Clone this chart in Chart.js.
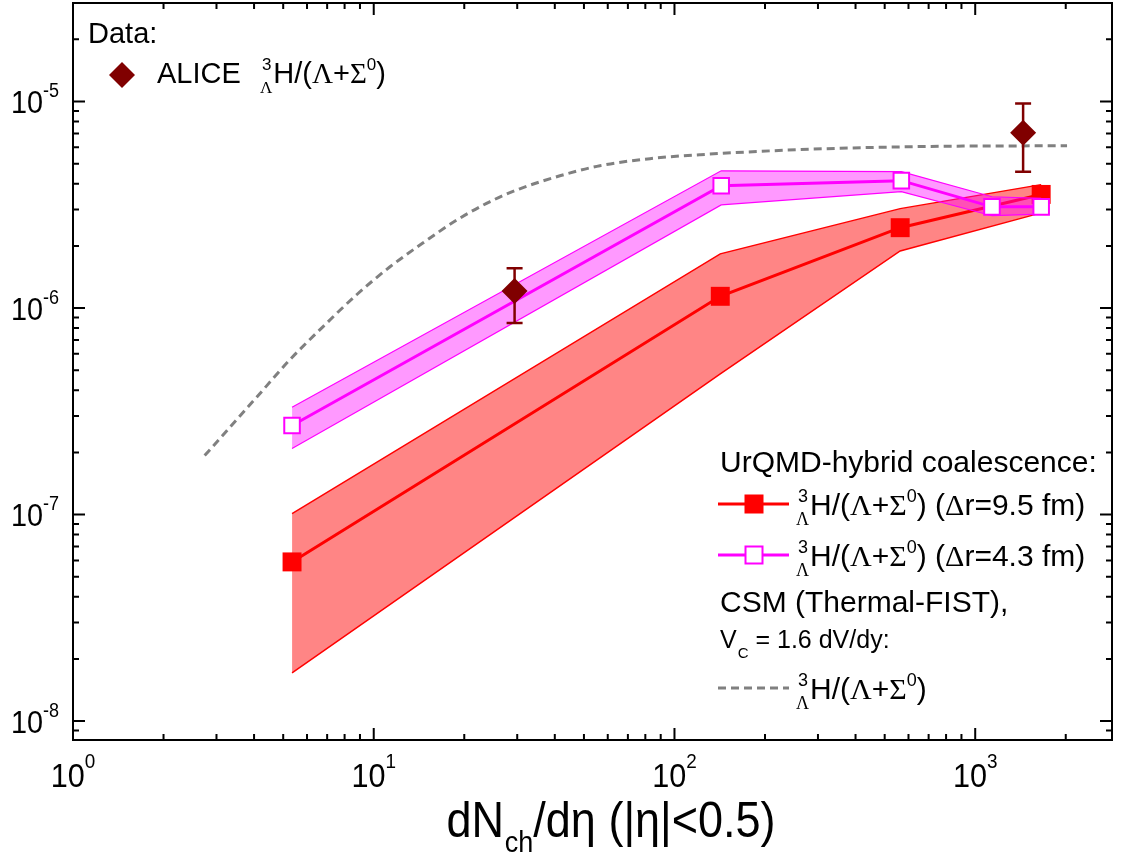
<!DOCTYPE html>
<html>
<head>
<meta charset="utf-8">
<script src="https://cdn.jsdelivr.net/npm/chart.js@4.4.0/dist/chart.umd.min.js"></script>
<style>
  html, body { margin: 0; padding: 0; background: #fff; }
  #wrap { width: 1122px; height: 856px; }
</style>
</head>
<body>
<div id="wrap"><canvas id="chart" width="1122" height="856"></canvas></div>
<script>
// ALICE data point + error bars
const aliceX = [29.4, 1443];
const aliceY = [1.21e-6, 7.07e-6];
const aliceHi = [1.56e-6, 9.78e-6];
const aliceLo = [8.46e-7, 4.57e-6];

// UrQMD-hybrid coalescence, dr = 9.5 fm (red)
const red95X = [5.35, 142, 563, 1657];
const red95Y = [5.9e-8, 1.14e-6, 2.45e-6, 3.55e-6];
const red95Up = [1.01e-7, 1.83e-6, 3.03e-6, 3.96e-6];
const red95Lo = [1.71e-8, 4.8e-7, 1.89e-6, 2.89e-6];

// UrQMD-hybrid coalescence, dr = 4.3 fm (magenta)
const mag43X = [5.35, 143, 568, 1137, 1657];
const mag43Y = [2.7e-7, 3.91e-6, 4.14e-6, 3.09e-6, 3.09e-6];
const mag43Up = [3.31e-7, 4.62e-6, 4.58e-6, 3.46e-6, 3.4e-6];
const mag43Lo = [2.09e-7, 3.16e-6, 3.66e-6, 2.8e-6, 2.85e-6];

// CSM (Thermal-FIST) curve
const csmX = [2.74, 4.08, 5.25, 6.76, 8.77, 11.3, 14.6, 18.9, 24.3, 30.6, 41.6, 56.5, 82.9, 122, 261, 641, 2020];
const csmY = [1.93e-7, 3.7e-7, 5.6e-7, 8.09e-7, 1.16e-6, 1.58e-6, 2.07e-6, 2.67e-6, 3.27e-6, 3.78e-6, 4.37e-6, 4.89e-6, 5.29e-6, 5.53e-6, 5.85e-6, 6.05e-6, 6.11e-6];

// tick labels (decades and their exponents)
const xDecades = [1, 10, 100, 1000];
const xTickExp = ['0', '1', '2', '3'];
const yDecades = [1e-5, 1e-6, 1e-7, 1e-8];
const yTickExp = ['-5', '-6', '-7', '-8'];

const pts = (xs, ys) => xs.map((x, i) => ({ x: x, y: ys[i] }));

const SANS = '"Liberation Sans", Arial, sans-serif';
const SERIF = '"Liberation Serif", "Times New Roman", serif';
const fnt = (s, serif) => s + 'px ' + (serif ? SERIF : SANS);

// draws a run of text parts with super/subscripts, returns width
function drawRich(ctx, x, y, parts, size, sx, draw) {
  sx = sx || 1;
  ctx.save();
  ctx.translate(x, y);
  ctx.scale(sx, 1);
  ctx.textAlign = 'left';
  ctx.textBaseline = 'alphabetic';
  let cx = 0;
  const small = Math.round(size * 0.6);
  for (const p of parts) {
    if (p.stack) {
      ctx.font = fnt(small, false);
      const w1 = ctx.measureText(p.stack[0]).width;
      if (draw) ctx.fillText(p.stack[0], cx + 2, -size * 0.45);
      ctx.font = fnt(small, true);
      const w2 = ctx.measureText(p.stack[1]).width;
      if (draw) ctx.fillText(p.stack[1], cx, size * 0.33);
      cx += Math.max(w1 + 2, w2) + 1;
    } else if (p.sup !== undefined) {
      ctx.font = fnt(p.size || small, false);
      if (draw) ctx.fillText(p.sup, cx, -(p.rise || size * 0.45));
      cx += ctx.measureText(p.sup).width;
    } else if (p.sub !== undefined) {
      ctx.font = fnt(p.size || small, false);
      if (draw) ctx.fillText(p.sub, cx + 1, p.drop || size * 0.3);
      cx += ctx.measureText(p.sub).width + 1;
    } else {
      ctx.font = fnt(size, p.serif);
      if (draw) ctx.fillText(p.t, cx, 0);
      cx += ctx.measureText(p.t).width;
    }
  }
  ctx.restore();
  return cx * sx;
}

const hypParts = [
  { stack: ['3', 'Λ'] }, { t: 'H/(' }, { t: 'Λ', serif: true }, { t: '+' },
  { t: 'Σ', serif: true }, { sup: '0' }, { t: ')' }
];

const framePlugin = {
  id: 'frame',
  afterDatasetsDraw(chart) {
    const ctx = chart.ctx;
    const xs = chart.scales.x, ys = chart.scales.y;
    // ALICE error bars
    ctx.save();
    ctx.strokeStyle = '#800000';
    ctx.lineWidth = 2.5;
    aliceX.forEach((v, i) => {
      const px = xs.getPixelForValue(v);
      const top = ys.getPixelForValue(aliceHi[i]);
      const bot = ys.getPixelForValue(aliceLo[i]);
      ctx.beginPath();
      ctx.moveTo(px, top); ctx.lineTo(px, bot);
      ctx.moveTo(px - 8, top); ctx.lineTo(px + 8, top);
      ctx.moveTo(px - 8, bot); ctx.lineTo(px + 8, bot);
      ctx.stroke();
    });
    ctx.restore();
  },
  afterDraw(chart) {
    const ctx = chart.ctx;
    const a = chart.chartArea;
    const xs = chart.scales.x, ys = chart.scales.y;
    ctx.save();
    ctx.strokeStyle = '#000';
    ctx.fillStyle = '#000';
    ctx.lineWidth = 2;
    ctx.strokeRect(a.left, a.top, a.right - a.left, a.bottom - a.top);

    // ticks on all four sides, pointing inwards
    ctx.beginPath();
    for (let d = 1; d <= 1000; d *= 10) {
      for (let m = 1; m <= 9; m++) {
        const v = d * m;
        if (v < xs.min || v > xs.max) continue;
        const px = xs.getPixelForValue(v);
        const len = m === 1 ? 12 : 6;
        ctx.moveTo(px, a.bottom); ctx.lineTo(px, a.bottom - len);
        ctx.moveTo(px, a.top); ctx.lineTo(px, a.top + len);
      }
    }
    for (let d = 1e-9; d <= 1e-4; d *= 10) {
      for (let m = 1; m <= 9; m++) {
        const v = d * m;
        if (v < ys.min || v > ys.max) continue;
        const py = ys.getPixelForValue(v);
        const len = m === 1 ? 12 : 6;
        ctx.moveTo(a.left, py); ctx.lineTo(a.left + len, py);
        ctx.moveTo(a.right, py); ctx.lineTo(a.right - len, py);
      }
    }
    ctx.stroke();

    // tick labels
    xDecades.forEach((v, i) => {
      const parts = [{ t: '10' }, { sup: xTickExp[i], size: 21, rise: 19 }];
      const w = drawRich(ctx, 0, 0, parts, 34, 0.9, false);
      drawRich(ctx, xs.getPixelForValue(v) - w / 2, 787, parts, 34, 0.9, true);
    });
    yDecades.forEach((v, i) => {
      const parts = [{ t: '10' }, { sup: yTickExp[i], size: 20, rise: 16 }];
      const w = drawRich(ctx, 0, 0, parts, 32, 0.9, false);
      drawRich(ctx, 59 - w, ys.getPixelForValue(v) + 11.5, parts, 32, 0.9, true);
    });

    // axis title
    const title = [{ t: 'dN' }, { sub: 'ch', size: 30, drop: 15 }, { t: '/dη (|η|<0.5)' }];
    const tw = drawRich(ctx, 0, 0, title, 50, 0.9, false);
    drawRich(ctx, 611 - tw / 2, 837, title, 50, 0.9, true);

    // legend: data
    drawRich(ctx, 88, 43, [{ t: 'Data:' }], 29, 1, true);
    ctx.fillStyle = '#800000';
    ctx.beginPath();
    ctx.moveTo(122 - 13, 75); ctx.lineTo(122, 62); ctx.lineTo(122 + 13, 75); ctx.lineTo(122, 88);
    ctx.closePath(); ctx.fill();
    ctx.fillStyle = '#000';
    drawRich(ctx, 157, 83, [{ t: 'ALICE' }], 29, 1, true);
    drawRich(ctx, 260, 83, hypParts, 29, 1, true);

    // legend: model curves
    drawRich(ctx, 720, 472, [{ t: 'UrQMD-hybrid coalescence:' }], 30, 1, true);
    ctx.lineWidth = 3;
    ctx.strokeStyle = '#ff0000';
    ctx.beginPath(); ctx.moveTo(718, 504); ctx.lineTo(789, 504); ctx.stroke();
    ctx.fillStyle = '#ff0000';
    ctx.fillRect(754 - 9.5, 504 - 9.5, 19, 19);
    ctx.fillStyle = '#000';
    drawRich(ctx, 796, 515, hypParts.concat([{ t: ' (' }, { t: 'Δ', serif: true }, { t: 'r=9.5 fm)' }]), 30, 1, true);

    ctx.strokeStyle = '#ff00ff';
    ctx.beginPath(); ctx.moveTo(718, 555); ctx.lineTo(789, 555); ctx.stroke();
    ctx.fillStyle = '#fff';
    ctx.lineWidth = 2;
    ctx.fillRect(754 - 8.5, 555 - 8.5, 17, 17);
    ctx.strokeRect(754 - 8.5, 555 - 8.5, 17, 17);
    ctx.fillStyle = '#000';
    drawRich(ctx, 796, 566, hypParts.concat([{ t: ' (' }, { t: 'Δ', serif: true }, { t: 'r=4.3 fm)' }]), 30, 1, true);

    drawRich(ctx, 720, 612, [{ t: 'CSM (Thermal-FIST),' }], 30, 1, true);
    drawRich(ctx, 720, 648, [{ t: 'V' }, { sub: 'C', size: 15, drop: 10 }, { t: ' = 1.6 dV/dy:' }], 25, 1, true);

    ctx.strokeStyle = '#808080';
    ctx.lineWidth = 3;
    ctx.setLineDash([8, 5]);
    ctx.beginPath(); ctx.moveTo(718, 688); ctx.lineTo(789, 688); ctx.stroke();
    ctx.setLineDash([]);
    drawRich(ctx, 796, 699, hypParts, 30, 1, true);
    ctx.restore();
  }
};

new Chart(document.getElementById('chart').getContext('2d'), {
  type: 'line',
  data: {
    datasets: [
      {
        label: 'ALICE', data: pts(aliceX, aliceY), showLine: false,
        pointStyle: 'rectRot', pointRadius: 13, borderWidth: 0,
        backgroundColor: '#800000', borderColor: '#800000', order: 0
      },
      {
        label: 'dr=4.3 fm', data: pts(mag43X, mag43Y), borderColor: '#ff00ff', borderWidth: 3,
        pointStyle: 'rect', pointRadius: 11, pointBackgroundColor: '#fff',
        pointBorderColor: '#ff00ff', pointBorderWidth: 2, fill: false, order: 1
      },
      {
        label: 'dr=4.3 fm low', data: pts(mag43X, mag43Lo), borderColor: '#ff00ff',
        borderWidth: 1.2, pointRadius: 0, fill: false, order: 3
      },
      {
        label: 'dr=4.3 fm high', data: pts(mag43X, mag43Up), borderColor: '#ff00ff',
        borderWidth: 1.2, pointRadius: 0, fill: '-1', backgroundColor: 'rgba(255,0,255,0.4)', order: 2
      },
      {
        label: 'dr=9.5 fm', data: pts(red95X, red95Y), borderColor: '#ff0000', borderWidth: 3,
        pointStyle: 'rect', pointRadius: 13.4, pointBackgroundColor: '#ff0000',
        pointBorderWidth: 0, fill: false, order: 4
      },
      {
        label: 'dr=9.5 fm low', data: pts(red95X, red95Lo), borderColor: '#ff0000',
        borderWidth: 1.5, pointRadius: 0, fill: false, order: 6
      },
      {
        label: 'dr=9.5 fm high', data: pts(red95X, red95Up), borderColor: '#ff0000',
        borderWidth: 1.5, pointRadius: 0, fill: '-1', backgroundColor: 'rgba(255,0,0,0.48)', order: 5
      },
      {
        label: 'CSM', data: pts(csmX, csmY), borderColor: '#808080', borderWidth: 3,
        borderDash: [8, 5], pointRadius: 0, cubicInterpolationMode: 'monotone', fill: false, order: 7
      }
    ]
  },
  options: {
    responsive: false,
    animation: false,
    events: [],
    layout: { autoPadding: false, padding: { top: 3, right: 10, left: 0, bottom: 0 } },
    plugins: {
      legend: { display: false },
      tooltip: { enabled: false }
    },
    scales: {
      x: {
        type: 'logarithmic', min: 1, max: 2850,
        ticks: { display: false }, grid: { display: false }, border: { display: false },
        afterFit: s => { s.height = 116; }
      },
      y: {
        type: 'logarithmic', min: 8.1e-9, max: 3e-5,
        ticks: { display: false }, grid: { display: false }, border: { display: false },
        afterFit: s => { s.width = 73; }
      }
    }
  },
  plugins: [framePlugin]
});
</script>
</body>
</html>
